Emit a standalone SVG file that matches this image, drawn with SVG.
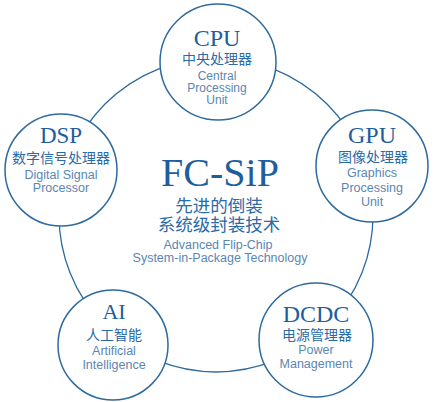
<svg xmlns="http://www.w3.org/2000/svg" width="437" height="402" viewBox="0 0 437 402">
<style>
.node{fill:#fff;stroke:#2d6a9e;stroke-width:1.5}
.ring{fill:none;stroke:#2d6a9e;stroke-width:1.3}
.t{font-family:"Liberation Serif","Times New Roman",serif;fill:#1e5e9c;text-anchor:middle}
.cn{font-family:"Noto Sans CJK SC",sans-serif;fill:#2a6aa8;text-anchor:middle}
.en{font-family:"Liberation Sans",Arial,sans-serif;fill:#5a86b2;text-anchor:middle}
</style>
<rect width="437" height="402" fill="#fff"/>
<g id="connectors">
<circle class="ring" cx="216" cy="215" r="157"/>
</g>
<g id="center">
<text class="t" x="220" y="186" font-size="40">FC-SiP</text>
<text class="cn" x="219" y="212" font-size="17.5">先进的倒装</text>
<text class="cn" x="219" y="231" font-size="17.5">系统级封装技术</text>
<text class="en" x="218" y="249" font-size="12.5">Advanced Flip-Chip</text>
<text class="en" x="220" y="262" font-size="12.5">System-in-Package Technology</text>
</g>
<g id="cpu">
<circle class="node" cx="218" cy="62" r="58"/>
<text class="t" x="217" y="46" font-size="24">CPU</text>
<text class="cn" x="217" y="64" font-size="14">中央处理器</text>
<text class="en" x="217" y="80" font-size="12">Central</text>
<text class="en" x="217" y="92" font-size="12">Processing</text>
<text class="en" x="217" y="104" font-size="12">Unit</text>
</g>
<g id="dsp">
<circle class="node" cx="61" cy="170" r="56"/>
<text class="t" x="61" y="143" font-size="23">DSP</text>
<text class="cn" x="61" y="163" font-size="14">数字信号处理器</text>
<text class="en" x="61" y="179" font-size="12.5">Digital Signal</text>
<text class="en" x="61" y="192" font-size="12.5">Processor</text>
</g>
<g id="gpu">
<circle class="node" cx="372" cy="166" r="56"/>
<text class="t" x="372" y="143" font-size="24">GPU</text>
<text class="cn" x="373" y="162" font-size="14">图像处理器</text>
<text class="en" x="372" y="177" font-size="12.5">Graphics</text>
<text class="en" x="372" y="192" font-size="12.5">Processing</text>
<text class="en" x="372" y="206" font-size="12.5">Unit</text>
</g>
<g id="ai">
<circle class="node" cx="113" cy="345" r="55"/>
<text class="t" x="114" y="319" font-size="22">AI</text>
<text class="cn" x="114" y="340" font-size="14">人工智能</text>
<text class="en" x="114" y="355" font-size="12.5">Artificial</text>
<text class="en" x="114" y="369" font-size="12.5">Intelligence</text>
</g>
<g id="dcdc">
<circle class="node" cx="316" cy="340" r="57"/>
<text class="t" x="316" y="322" font-size="24">DCDC</text>
<text class="cn" x="317" y="340" font-size="14">电源管理器</text>
<text class="en" x="316" y="354" font-size="12.5">Power</text>
<text class="en" x="316" y="368" font-size="12.5">Management</text>
</g>
</svg>
